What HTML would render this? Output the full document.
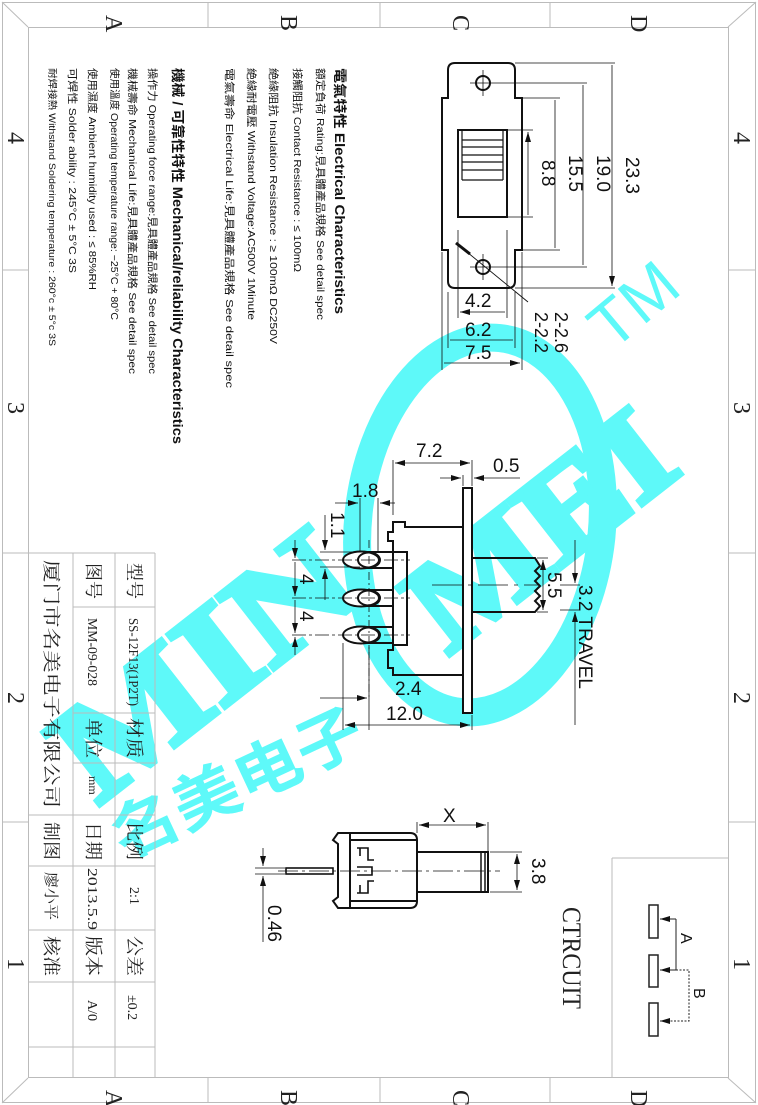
<!DOCTYPE html>
<html><head><meta charset="utf-8"><style>
html,body{margin:0;padding:0;background:#fff;}
svg{display:block;}
.t{font-family:"Liberation Sans","Noto Sans CJK TC",sans-serif;fill:#111;}
.s{font-family:"Liberation Serif","Noto Serif CJK SC",serif;fill:#222;}
.d{font-family:"Liberation Sans",sans-serif;fill:#111;font-size:19px;}
</style></head><body>
<svg width="758" height="1105" viewBox="0 0 758 1105" xmlns="http://www.w3.org/2000/svg">
<defs>
<marker id="a" viewBox="0 0 10 6" refX="10" refY="3" markerWidth="10" markerHeight="6" orient="auto-start-reverse" markerUnits="userSpaceOnUse"><path d="M0,0 L10,3 L0,6 Z" fill="#111"/></marker>
</defs>
<rect width="758" height="1105" fill="#fff"/>

<!-- watermark -->
<g fill="#5ef9f9" stroke="none">
<ellipse cx="480" cy="525" rx="122" ry="188" transform="rotate(6 480 525)" fill="none" stroke="#5ef9f9" stroke-width="28"/>
<text transform="translate(98,806) rotate(-38)" font-family="Liberation Serif,serif" font-weight="bold" font-size="140" textLength="340" lengthAdjust="spacingAndGlyphs" stroke="#5ef9f9" stroke-width="6">MIN</text>
<text transform="translate(448,656) rotate(-38)" font-family="Liberation Serif,serif" font-weight="bold" font-size="130" textLength="300" lengthAdjust="spacingAndGlyphs" stroke="#5ef9f9" stroke-width="6">MEI</text>
<text transform="translate(612,352) rotate(-40)" font-family="Liberation Sans,sans-serif" font-size="65">TM</text>
<text transform="translate(124,860) rotate(-25)" font-family="Liberation Sans,'Noto Sans CJK SC',sans-serif" font-weight="bold" font-size="62" textLength="270" lengthAdjust="spacingAndGlyphs">名美电子</text>
</g>

<!-- frame -->
<g fill="none" stroke="#bbb" stroke-width="1">
<rect x="2.5" y="2.5" width="753" height="1100"/>
<rect x="28.5" y="27.5" width="700" height="1050"/>
<line x1="2" y1="2" x2="28" y2="27"/><line x1="756" y1="2" x2="728" y2="27"/>
<line x1="2" y1="1103" x2="28" y2="1078"/><line x1="756" y1="1103" x2="728" y2="1078"/>
<line x1="208" y1="2" x2="208" y2="27"/><line x1="380" y1="2" x2="380" y2="27"/><line x1="550" y1="2" x2="550" y2="27"/>
<line x1="208" y1="1078" x2="208" y2="1103"/><line x1="380" y1="1078" x2="380" y2="1103"/><line x1="550" y1="1078" x2="550" y2="1103"/>
<line x1="2" y1="270" x2="28" y2="270"/><line x1="2" y1="553" x2="28" y2="553"/><line x1="2" y1="822" x2="28" y2="822"/>
<line x1="728" y1="270" x2="756" y2="270"/><line x1="728" y1="553" x2="756" y2="553"/><line x1="728" y1="822" x2="756" y2="822"/>
<line x1="612" y1="858" x2="612" y2="1078"/><line x1="612" y1="858" x2="728" y2="858"/>
<line x1="155" y1="553" x2="155" y2="1078"/><line x1="115" y1="553" x2="115" y2="1078"/><line x1="73" y1="553" x2="73" y2="1078"/>
<line x1="28" y1="553" x2="155" y2="553"/>
<line x1="73" y1="607" x2="155" y2="607"/><line x1="73" y1="713" x2="155" y2="713"/><line x1="73" y1="763" x2="155" y2="763"/>
<line x1="28" y1="815" x2="155" y2="815"/><line x1="28" y1="866" x2="155" y2="866"/><line x1="28" y1="930" x2="155" y2="930"/>
<line x1="28" y1="982" x2="155" y2="982"/><line x1="28" y1="1047" x2="155" y2="1047"/>
</g>
<g class="s" font-size="24">
<text transform="translate(106,15) rotate(90)">A</text>
<text transform="translate(281,15) rotate(90)">B</text>
<text transform="translate(453,15) rotate(90)">C</text>
<text transform="translate(631,15) rotate(90)">D</text>
<text transform="translate(106,1090) rotate(90)">A</text>
<text transform="translate(281,1090) rotate(90)">B</text>
<text transform="translate(453,1090) rotate(90)">C</text>
<text transform="translate(631,1090) rotate(90)">D</text>
<text transform="translate(8,132) rotate(90)">4</text>
<text transform="translate(8,402) rotate(90)">3</text>
<text transform="translate(8,692) rotate(90)">2</text>
<text transform="translate(8,958) rotate(90)">1</text>
<text transform="translate(734,132) rotate(90)">4</text>
<text transform="translate(734,402) rotate(90)">3</text>
<text transform="translate(734,692) rotate(90)">2</text>
<text transform="translate(734,958) rotate(90)">1</text>
</g>

<!-- title block text -->
<g class="s">
<text transform="translate(128,563) rotate(90)" font-size="18" textLength="36" lengthAdjust="spacingAndGlyphs">型号</text>
<text transform="translate(87,563) rotate(90)" font-size="18" textLength="36" lengthAdjust="spacingAndGlyphs">图号</text>
<text transform="translate(129,618) rotate(90)" font-size="14" textLength="88" lengthAdjust="spacingAndGlyphs">SS-12F13(1P2T)</text>
<text transform="translate(88,618) rotate(90)" font-size="14" textLength="68" lengthAdjust="spacingAndGlyphs">MM-09-028</text>
<text transform="translate(128,718) rotate(90)" font-size="18" textLength="40" lengthAdjust="spacingAndGlyphs">材质</text>
<text transform="translate(87,718) rotate(90)" font-size="18" textLength="40" lengthAdjust="spacingAndGlyphs">单位</text>
<text transform="translate(89,776) rotate(90)" font-size="12">mm</text>
<text transform="translate(45,560) rotate(90)" font-size="18" textLength="248" lengthAdjust="spacingAndGlyphs">厦门市名美电子有限公司</text>
<text transform="translate(128,822) rotate(90)" font-size="18" textLength="38" lengthAdjust="spacingAndGlyphs">比例</text>
<text transform="translate(87,822) rotate(90)" font-size="18" textLength="38" lengthAdjust="spacingAndGlyphs">日期</text>
<text transform="translate(45,822) rotate(90)" font-size="18" textLength="38" lengthAdjust="spacingAndGlyphs">制图</text>
<text transform="translate(130,887) rotate(90)" font-size="14">2:1</text>
<text transform="translate(88,868) rotate(90)" font-size="14" textLength="62" lengthAdjust="spacingAndGlyphs">2013.5.9</text>
<text transform="translate(46,872) rotate(90)" font-size="15" textLength="48" lengthAdjust="spacingAndGlyphs">廖小平</text>
<text transform="translate(128,936) rotate(90)" font-size="18" textLength="40" lengthAdjust="spacingAndGlyphs">公差</text>
<text transform="translate(87,936) rotate(90)" font-size="18" textLength="40" lengthAdjust="spacingAndGlyphs">版本</text>
<text transform="translate(45,936) rotate(90)" font-size="18" textLength="40" lengthAdjust="spacingAndGlyphs">核准</text>
<text transform="translate(128,995) rotate(90)" font-size="14">±0.2</text>
<text transform="translate(88,1000) rotate(90)" font-size="14">A/0</text>
<text transform="translate(563,907) rotate(90)" font-size="26" textLength="102" lengthAdjust="spacingAndGlyphs">CTRCUIT</text>
</g>

<!-- spec text -->
<g class="t">
<text transform="translate(335,68) rotate(90)" font-size="13.5" font-weight="bold" textLength="246" lengthAdjust="spacingAndGlyphs">電氣特性 Electrical  Characteristics</text>
<text transform="translate(317,68) rotate(90)" font-size="10.5" textLength="252" lengthAdjust="spacingAndGlyphs">額定負荷 Rating:見具體產品規格 See  detail  spec</text>
<text transform="translate(294,68) rotate(90)" font-size="10.5" textLength="204" lengthAdjust="spacingAndGlyphs">接觸阻抗 Contact  Resistance :  ≤ 100mΩ</text>
<text transform="translate(270,68) rotate(90)" font-size="10.5" textLength="276" lengthAdjust="spacingAndGlyphs">絶緣阻抗 Insulation  Resistance : ≥ 100mΩ  DC250V</text>
<text transform="translate(248,68) rotate(90)" font-size="10.5" textLength="252" lengthAdjust="spacingAndGlyphs">絶緣耐電壓 Withstand  Voltage:AC500V  1Minute</text>
<text transform="translate(226,68) rotate(90)" font-size="10.5" textLength="320" lengthAdjust="spacingAndGlyphs">電氣壽命 Electrical  Life:見具體產品規格 See  detail  spec</text>
<text transform="translate(173,68) rotate(90)" font-size="13.5" font-weight="bold" textLength="376" lengthAdjust="spacingAndGlyphs">機械 / 可靠性特性 Mechanical/reliability  Characteristics</text>
<text transform="translate(149,68) rotate(90)" font-size="10.5" textLength="306" lengthAdjust="spacingAndGlyphs">操作力 Operating  force  range:見具體產品規格 See  detail  spec</text>
<text transform="translate(129,68) rotate(90)" font-size="10.5" textLength="306" lengthAdjust="spacingAndGlyphs">機械壽命 Mechanical  Life:見具體產品規格 See  detail  spec</text>
<text transform="translate(111,68) rotate(90)" font-size="10" textLength="252" lengthAdjust="spacingAndGlyphs">使用溫度 Operating  temperature  range: −25°C + 80°C</text>
<text transform="translate(89,68) rotate(90)" font-size="10.5" textLength="222" lengthAdjust="spacingAndGlyphs">使用濕度 Ambient  humidity  used : ≤ 85%RH</text>
<text transform="translate(69,68) rotate(90)" font-size="10.5" textLength="205" lengthAdjust="spacingAndGlyphs">可焊性 Solder  ability : 245°C ± 5°C    3S</text>
<text transform="translate(49,68) rotate(90)" font-size="9.5" textLength="278" lengthAdjust="spacingAndGlyphs">耐焊接熱 Withstand Soldering temperature : 260°c ± 5°c    3S</text>
</g>

<!-- TOP VIEW -->
<g fill="none" stroke="#111">
<path d="M448,98 L448,70 Q448,63 455,63 L508,63 Q515,63 515,70 L515,98 L522,98 L522,250 L515,250 L515,281 Q515,288 508,288 L455,288 Q448,288 448,281 L448,250 L442,250 L442,98 Z" stroke-width="2"/>
<circle cx="483" cy="83" r="7" stroke-width="2"/><circle cx="483" cy="267" r="7" stroke-width="2"/>
<path d="M470,83 H496 M483,70 V96 M470,267 H496 M483,254 V280" stroke-width="0.8"/>
<rect x="458" y="130" width="49" height="87" stroke-width="2"/>
<path d="M462,130 V180 M503,130 V180 M462,140 H503 M462,147 H503 M462,155 H503 M462,162 H503 M462,170 H503 M462,180 H503" stroke-width="1.2"/>
<path d="M515,63 H615 M496,83 H587 M522,98 H560 M507,130 H533 M507,217 H533 M522,250 H560 M496,267 H587 M515,288 H615" stroke-width="0.8"/>
<path d="M528,132 V215 M555,100 V248 M583,85 V265 M612,65 V286" stroke-width="0.8" marker-start="url(#a)" marker-end="url(#a)"/>
<path d="M458,230 V318 M507,230 V318 M448,292 V348 M515,292 V348 M442,252 V370 M522,252 V370" stroke-width="0.8"/>
<path d="M460,312 H505 M450,340 H513 M444,363 H520" stroke-width="0.8" marker-start="url(#a)" marker-end="url(#a)"/>
<path d="M456,243 L528,302" stroke-width="0.9"/>
<path d="M456,243 L470,254" stroke-width="3"/>
</g>
<g class="d">
<text transform="translate(542,160) rotate(90)">8.8</text>
<text transform="translate(569,155) rotate(90)">15.5</text>
<text transform="translate(597,155) rotate(90)">19.0</text>
<text transform="translate(626,157) rotate(90)">23.3</text>
<text x="465" y="307">4.2</text>
<text x="465" y="336">6.2</text>
<text x="465" y="359">7.5</text>
<text transform="translate(555,312) rotate(90)" font-size="18">2-2.6</text>
<text transform="translate(535,312) rotate(90)" font-size="18">2-2.2</text>
</g>

<!-- SIDE VIEW -->
<g fill="none" stroke="#111">
<path d="M463,527 L405,527 L405,522 L393,522 L393,532 L388,532 L388,541 L393,541 L393,650 L388,650 L388,668 L393,668 L393,675 L405,675 L463,675" stroke-width="2"/>
<path d="M393,552 H407 V645 H393" stroke-width="2"/>
<rect x="463" y="488" width="9" height="225" stroke-width="2" fill="#fff"/>
<path d="M472,558 L535,558 L540,566 L535,571 L540,576 L535,581 L540,586 L535,591 L540,596 L535,601 L540,606 L535,612 L472,612" stroke-width="2"/>
<path d="M361,552 H393 M361,568 H393 M361,590 H393 M361,606 H393 M361,627 H393 M361,643 H393" stroke-width="2"/>
<ellipse cx="361" cy="560" rx="18" ry="8.5" stroke-width="2" fill="#fff"/>
<ellipse cx="361" cy="598" rx="18" ry="8.5" stroke-width="2" fill="#fff"/>
<ellipse cx="361" cy="635" rx="18" ry="8.5" stroke-width="2" fill="#fff"/>
<ellipse cx="369" cy="560" rx="11" ry="7.5" stroke-width="2"/>
<ellipse cx="369" cy="598" rx="11" ry="7.5" stroke-width="2"/>
<ellipse cx="369" cy="635" rx="11" ry="7.5" stroke-width="2"/>
<path d="M369,540 V700" stroke-width="0.8" stroke-dasharray="8,3,2,3"/>
<path d="M292,560 H410 M292,598 H410 M292,635 H410" stroke-width="0.8" stroke-dasharray="14,3,3,3"/>
<path d="M432,585 H540" stroke-width="0.8" stroke-dasharray="30,6,4,6"/>
<path d="M393,460 V515 M472,460 V486 M463,475 V486 M360,498 V552 M378,498 V552 M320,552 H360 M320,567 H360 M343,643 V730 M369,645 V730 M472,715 V730 M537,558 H548 M537,612 H548 M560,585 H580 M560,610 H580" stroke-width="0.8"/>
<path d="M395,463 H470" stroke-width="0.8" marker-start="url(#a)" marker-end="url(#a)"/>
<path d="M440,478 H461" stroke-width="0.8" marker-end="url(#a)"/><path d="M520,478 H474" stroke-width="0.8" marker-end="url(#a)"/>
<path d="M335,503 H358" stroke-width="0.8" marker-end="url(#a)"/><path d="M395,503 H380" stroke-width="0.8" marker-end="url(#a)"/>
<path d="M325,515 V550" stroke-width="0.8" marker-end="url(#a)"/><path d="M325,600 V569" stroke-width="0.8" marker-end="url(#a)"/>
<path d="M295,540 V558" stroke-width="0.8" marker-end="url(#a)"/><path d="M295,562 V596" stroke-width="0.8" marker-end="url(#a)"/>
<path d="M295,600 V633" stroke-width="0.8" marker-end="url(#a)"/><path d="M295,655 V637" stroke-width="0.8" marker-end="url(#a)"/>
<path d="M543,560 V610" stroke-width="0.8" marker-start="url(#a)" marker-end="url(#a)"/>
<path d="M575,540 V583" stroke-width="0.8" marker-end="url(#a)"/><path d="M575,725 V612" stroke-width="0.8" marker-end="url(#a)"/>
<path d="M320,698 H367" stroke-width="0.8" marker-end="url(#a)"/>
<path d="M345,725 H470" stroke-width="0.8" marker-start="url(#a)" marker-end="url(#a)"/>
</g>
<g class="d">
<text x="416" y="457">7.2</text>
<text x="493" y="472">0.5</text>
<text x="352" y="497">1.8</text>
<text transform="translate(331,512) rotate(90)">1.1</text>
<text transform="translate(300,574) rotate(90)">4</text>
<text transform="translate(300,611) rotate(90)">4</text>
<text transform="translate(548,572) rotate(90)">5.5</text>
<text transform="translate(579,585) rotate(90)">3.2 TRAVEL</text>
<text x="395" y="695">2.4</text>
<text x="386" y="720">12.0</text>
</g>

<!-- BOTTOM VIEW -->
<g fill="none" stroke="#111">
<path d="M338,833 L410,833 Q417,833 417,840 L417,901 Q417,908 410,908 L338,908 L333,901 L338,897 L338,844 L333,840 Z" stroke-width="2"/>
<path d="M350,833 V908 M350,840 H417 M350,901 H417" stroke-width="2"/>
<path d="M357,848 H368 V860 H374 M357,893 H368 V881 H374 M360,848 V856 M360,893 V885 M357,867 H372 V875 H357" stroke-width="1.6"/>
<rect x="417" y="852" width="71" height="40" stroke-width="2"/>
<path d="M481,852 V892 M485,852 V892" stroke-width="1.5"/>
<rect x="286" y="868" width="47" height="6" stroke-width="1.6"/>
<path d="M278,871 H500" stroke-width="0.8" stroke-dasharray="20,4,3,4"/>
<path d="M417,822 V833 M488,822 V858 M490,852 H522 M490,892 H522 M255,868 H285 M255,874 H285" stroke-width="0.8"/>
<path d="M419,825 H486" stroke-width="0.8" marker-start="url(#a)" marker-end="url(#a)"/>
<path d="M517,854 V890" stroke-width="0.8" marker-start="url(#a)" marker-end="url(#a)"/>
<path d="M263,848 V866" stroke-width="0.8" marker-end="url(#a)"/><path d="M263,942 V876" stroke-width="0.8" marker-end="url(#a)"/>
</g>
<g class="d">
<text x="443" y="822">X</text>
<text transform="translate(532,858) rotate(90)">3.8</text>
<text transform="translate(268,905) rotate(90)">0.46</text>
</g>

<!-- CIRCUIT -->
<g fill="none" stroke="#222">
<rect x="649" y="905" width="9" height="33" stroke-width="1.5"/>
<rect x="649" y="955" width="9" height="32" stroke-width="1.5"/>
<rect x="649" y="1003" width="9" height="33" stroke-width="1.5"/>
<path d="M676,919 V970" stroke-width="1"/>
<path d="M676,919 H660" stroke-width="1" marker-end="url(#a)"/>
<path d="M676,970 H660" stroke-width="1" marker-end="url(#a)"/>
<path d="M676,970 H689 V1021 H660" stroke-width="1" stroke-dasharray="2,1.5"/>
<path d="M668,1021 H660" stroke-width="1" marker-end="url(#a)"/>
</g>
<g class="d">
<text transform="translate(681,933) rotate(90)" style="font-size:16px">A</text>
<text transform="translate(694,988) rotate(90)" style="font-size:16px">B</text>
</g>
</svg>
</body></html>
